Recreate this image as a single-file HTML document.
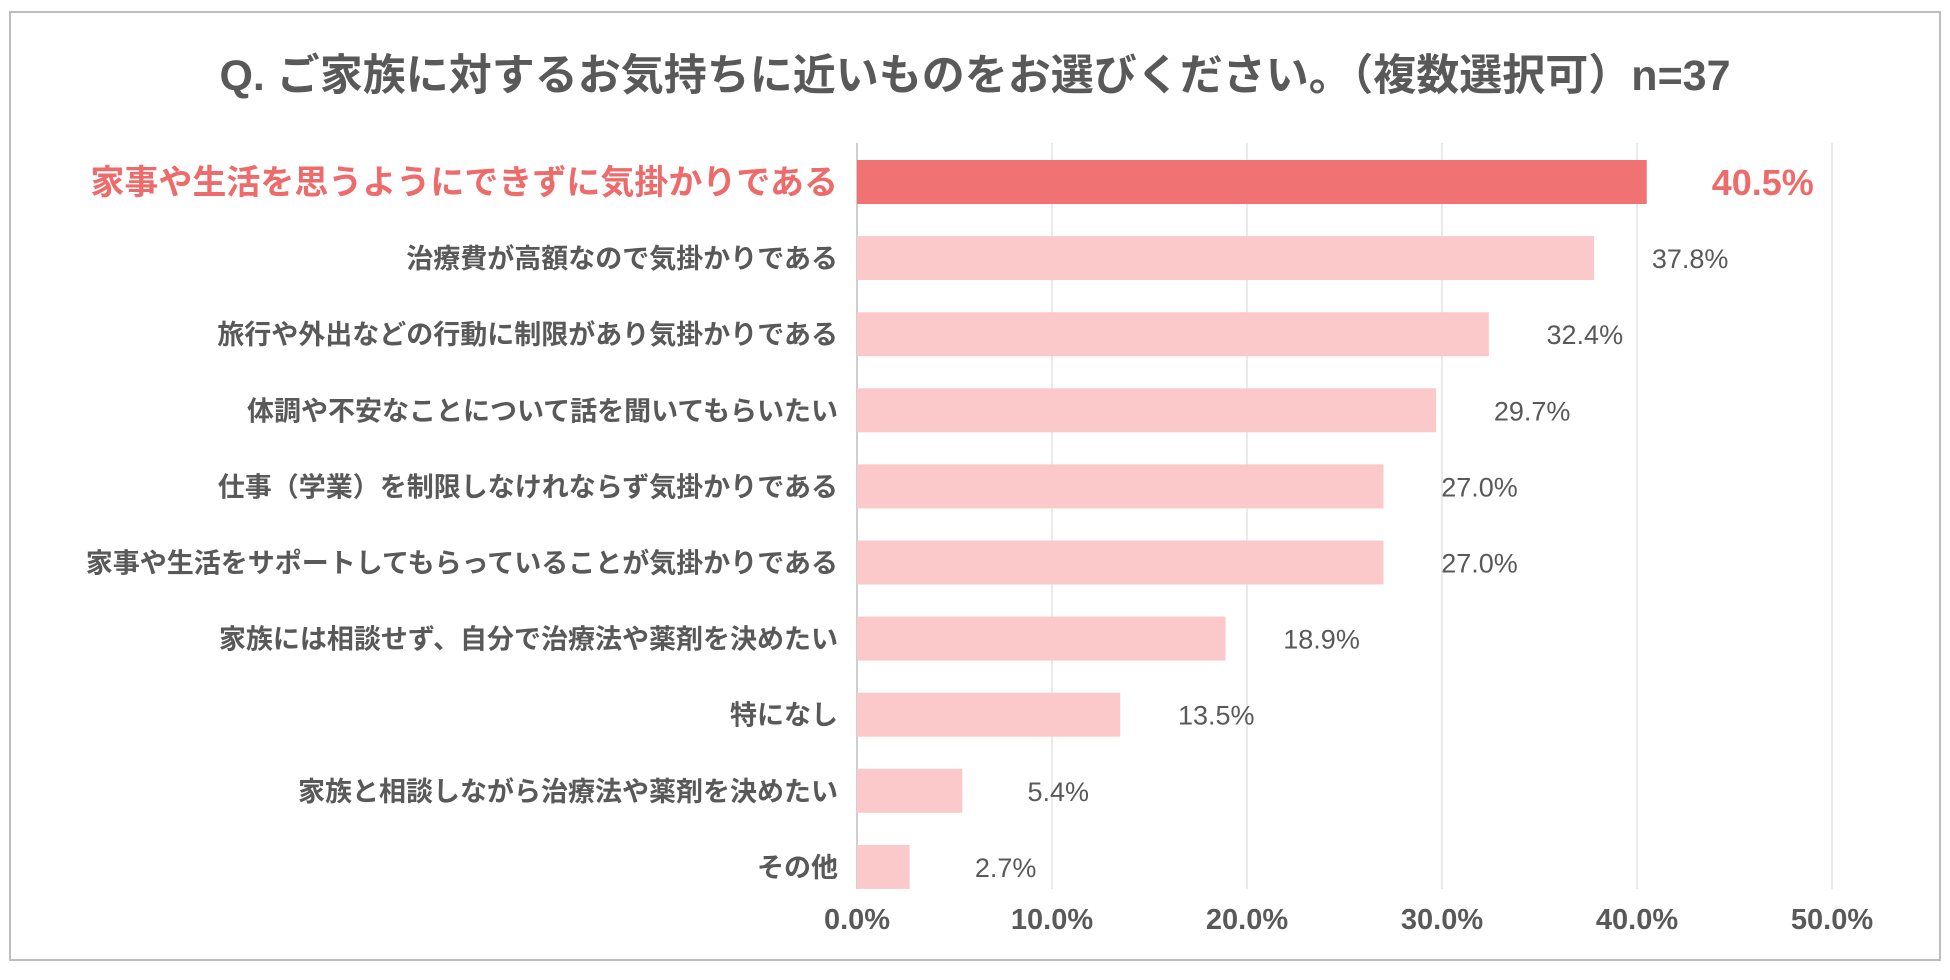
<!DOCTYPE html>
<html><head><meta charset="utf-8"><style>
body{margin:0;background:#fff;width:1950px;height:975px;overflow:hidden;font-family:"Liberation Sans","Noto Sans CJK JP",sans-serif;}
</style></head><body>
<svg width="1950" height="975" id="chart">
<rect x="10" y="12" width="1930" height="948" fill="#fff" stroke="#bdbdbd" stroke-width="2"/>
<text x="975" y="90" text-anchor="middle" font-size="43" font-weight="bold" fill="#595959" font-family="Liberation Sans, Noto Sans CJK JP, sans-serif">Q. ご家族に対するお気持ちに近いものをお選びください。（複数選択可）n=37</text>
<g id="grid"></g><g id="bars"></g>
</svg>
<script>
const categories=["家事や生活を思うようにできずに気掛かりである","治療費が高額なので気掛かりである","旅行や外出などの行動に制限があり気掛かりである","体調や不安なことについて話を聞いてもらいたい","仕事（学業）を制限しなけれならず気掛かりである","家事や生活をサポートしてもらっていることが気掛かりである","家族には相談せず、自分で治療法や薬剤を決めたい","特になし","家族と相談しながら治療法や薬剤を決めたい","その他"];
const values=[40.5,37.8,32.4,29.7,27.0,27.0,18.9,13.5,5.4,2.7];
const ticks=[0,10,20,30,40,50];
const NS="http://www.w3.org/2000/svg";
const x0=857,x1=1832,xmax=50,yTop=182,step=76.1,bh=44;
const xs=v=>x0+(x1-x0)*v/xmax, ys=i=>yTop+i*step;
const grid=document.getElementById('grid'),bars=document.getElementById('bars');
function mk(t,a,p){const e=document.createElementNS(NS,t);for(const k in a)e.setAttribute(k,a[k]);p.appendChild(e);return e;}
ticks.forEach(t=>{
 const l=mk('line',{x1:xs(t),x2:xs(t),y1:143,y2:889,stroke:t===0?'#bfbfbf':'#e3e3e3','stroke-width':1.5},grid);
 
 
 const tx=mk('text',{x:xs(t),y:929,'text-anchor':'middle','font-size':29,'font-weight':'bold',fill:'#595959'},grid);
 tx.textContent=t.toFixed(1)+'%';
 
 
});
values.forEach((v,i)=>{
 const hi=i===0,y=ys(i);
 const r=mk('rect',{x:x0,y:y-bh/2,width:xs(v)-x0,height:bh,fill:hi?'#F07272':'#FBC9C9'},bars);
 
 
 const lb=mk('text',{x:838,y:y+(hi?12:10),'text-anchor':'end','font-size':hi?34:27,'font-weight':'bold',fill:hi?'#EE6B6B':'#595959'},bars);
 lb.textContent=categories[i];
 
 
 const vl=mk('text',{x:xs(v)+(hi?116:96),y:y+(hi?13:10),'text-anchor':'middle','font-size':hi?36:27,'font-weight':hi?'bold':'normal',fill:hi?'#EE6B6B':'#595959'},bars);
 vl.textContent=v.toFixed(1)+'%';
 
 
});
</script>
</body></html>
